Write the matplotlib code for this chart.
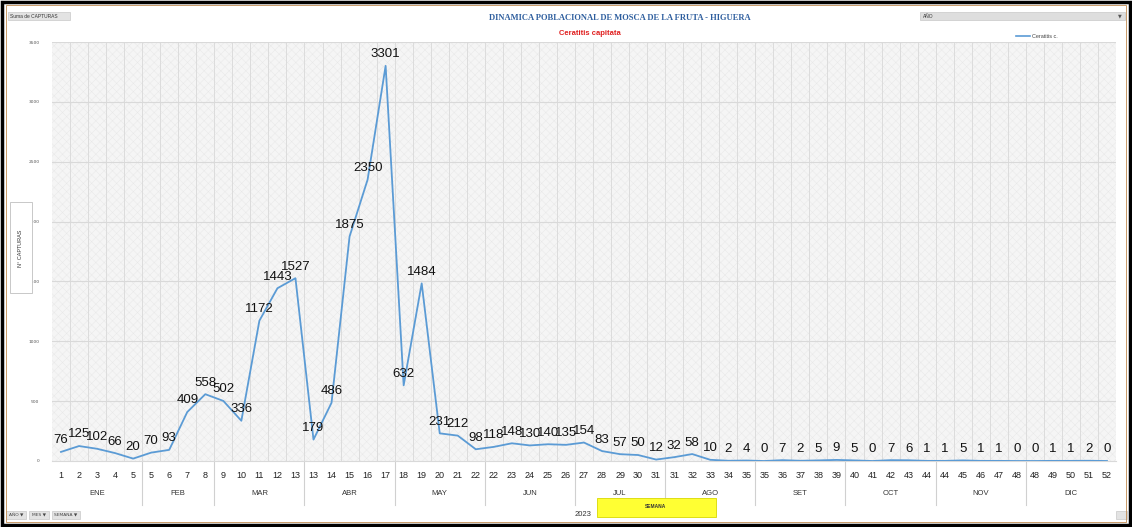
#!/usr/bin/env python3
"""
Weekly fruit fly captures (Ceratitis capitata) on fig, 2023
"""
import matplotlib
matplotlib.use("Agg")
import matplotlib.pyplot as plt
from matplotlib.patches import Rectangle
from matplotlib.lines import Line2D
from matplotlib import font_manager

# Weekly captures, grouped by month (week numbers repeat at month edges)
months = ["ENE", "FEB", "MAR", "ABR", "MAY", "JUN",
          "JUL", "AGO", "SET", "OCT", "NOV", "DIC"]
month_weeks = [
    [1, 2, 3, 4, 5],
    [5, 6, 7, 8],
    [9, 10, 11, 12, 13],
    [13, 14, 15, 16, 17],
    [18, 19, 20, 21, 22],
    [22, 23, 24, 25, 26],
    [27, 28, 29, 30, 31],
    [31, 32, 33, 34, 35],
    [35, 36, 37, 38, 39],
    [40, 41, 42, 43, 44],
    [44, 45, 46, 47, 48],
    [48, 49, 50, 51, 52],
]
captures = [
    76, 125, 102, 66, 20,
    70, 93, 409, 558,
    502, 336, 1172, 1443, 1527,
    179, 486, 1875, 2350, 3301,
    632, 1484, 231, 212, 98,
    118, 148, 130, 140, 135,
    154, 83, 57, 50, 12,
    32, 58, 10, 2, 4,
    0, 7, 2, 5, 9,
    5, 0, 7, 6, 1,
    1, 5, 1, 1, 0,
    0, 1, 1, 2, 0,
]
y_ticks = [0, 500, 1000, 1500, 2000, 2500, 3000, 3500]

names = {f.name for f in font_manager.fontManager.ttflist}
NARROW = "Liberation Sans Narrow" if "Liberation Sans Narrow" in names else "Liberation Sans"
LABEL_SIZE = 11 if NARROW == "Liberation Sans Narrow" else 9.5

plt.rcParams["hatch.linewidth"] = 0.35

W, H = 1132, 527
fig = plt.figure(figsize=(W / 100, H / 100), dpi=100)


def fx(px):
    return px / W


def fy(py):
    return 1 - py / H


left, right, top, bottom = 52, 1116, 42, 461
ax = fig.add_axes([fx(left), fy(bottom), fx(right - left), (bottom - top) / H])

weeks = [w for grp in month_weeks for w in grp]
x = list(range(len(weeks)))

# hatched plot background
ax.set_facecolor("#f5f5f5")
ax.add_patch(Rectangle((0, 0), 1, 1, transform=ax.transAxes, facecolor="none",
                       edgecolor="#e8e8e8", hatch="xxxx", linewidth=0, zorder=0))

for i in range(len(weeks) - 1):
    ax.axvline(i + 0.5, color="#dcdcdc", lw=0.7, zorder=1)
for t in y_ticks[1:]:
    ax.axhline(t, color="#d9d9d9", lw=0.8, zorder=1)

ax.plot(x, captures, color="#5b9bd5", lw=1.3, zorder=3)
for xi, v in zip(x, captures):
    ax.annotate(str(v), (xi, v), xytext=(0, 4), textcoords="offset points",
                ha="center", va="bottom", fontsize=LABEL_SIZE, family=NARROW,
                color="#111111", zorder=4)

ax.set_xlim(-0.5, len(weeks) - 0.5)
ax.set_ylim(0, 3500)
ax.set_xticks(x)
ax.set_xticklabels([str(w) for w in weeks], fontsize=6.5, family=NARROW,
                   color="#222222")
ax.tick_params(axis="x", length=0, pad=7)
ax.set_yticks(y_ticks)
ax.set_yticklabels([str(t) for t in y_ticks], fontsize=3.2, color="#555555")
ax.tick_params(axis="y", length=0, pad=9)
for s in ax.spines.values():
    s.set_visible(False)
ax.spines["bottom"].set_visible(True)
ax.spines["bottom"].set_color("#d9d9d9")

# month row and group separators
trans = ax.get_xaxis_transform()
start = 0
for name, grp in zip(months, month_weeks):
    end = start + len(grp)
    ax.text((start + end - 1) / 2, -0.077, name, transform=trans, ha="center",
            va="center", fontsize=5.5, family=NARROW, color="#333333")
    if start > 0:
        ax.add_line(Line2D([start - 0.5, start - 0.5], [0, -0.105], transform=trans,
                           color="#d0d0d0", lw=0.8, clip_on=False))
    start = end

# titles and legend
fig.text(fx(620), fy(18), "DINAMICA POBLACIONAL DE MOSCA DE LA FRUTA - HIGUERA",
         ha="center", va="center", fontsize=6.1, fontweight="bold",
         family="Liberation Serif", color="#2e5e9e")
fig.text(fx(590), fy(34), "Ceratitis capitata", ha="center", va="center",
         fontsize=5.5, fontweight="bold", family=NARROW, color="#e02020")
fig.add_artist(Line2D([fx(1016), fx(1030)], [fy(36), fy(36)], color="#5b9bd5", lw=1.2))
fig.text(fx(1032), fy(36), "Ceratitis c.", ha="left", va="center", fontsize=4,
         family=NARROW, color="#444444")

# y-axis title box
fig.add_artist(Rectangle((fx(10), fy(293)), fx(22), (293 - 202) / H,
                         facecolor="white", edgecolor="#bfbfbf", lw=0.6))
fig.text(fx(21), fy(248), "N° CAPTURAS", rotation=90, ha="center", va="center",
         fontsize=4, family=NARROW, color="#333333")

# pivot field buttons
fig.add_artist(Rectangle((fx(8), fy(20)), fx(62), 8 / H,
                         facecolor="#e3e3e3", edgecolor="#c8c8c8", lw=0.5))
fig.text(fx(10), fy(16), "Suma de CAPTURAS", ha="left", va="center",
         fontsize=3.5, family=NARROW, color="#333333")
fig.add_artist(Rectangle((fx(920), fy(20)), fx(205), 8 / H,
                         facecolor="#dedede", edgecolor="#c8c8c8", lw=0.5))
fig.text(fx(923), fy(16), "AÑO", ha="left", va="center", fontsize=3.5,
         family=NARROW, color="#333333")
fig.text(fx(1120), fy(16), "▼", ha="center", va="center", fontsize=3.5,
         family="DejaVu Sans", color="#555555")
bx = 6
for label in ["AÑO ▼", "MES ▼", "SEMANA ▼"]:
    w = 20 if len(label) < 7 else 28
    fig.add_artist(Rectangle((fx(bx), fy(519)), fx(w), 8 / H,
                             facecolor="#e3e3e3", edgecolor="#c8c8c8", lw=0.5))
    fig.text(fx(bx + w / 2), fy(515), label, ha="center", va="center",
             fontsize=3.2, family="DejaVu Sans", color="#444444")
    bx += w + 3
fig.add_artist(Rectangle((fx(1116), fy(519)), fx(11), 8 / H,
                         facecolor="#e3e3e3", edgecolor="#c8c8c8", lw=0.5))

fig.text(fx(583), fy(514), "2023", ha="center", va="center", fontsize=5.5,
         family=NARROW, color="#333333")
fig.add_artist(Rectangle((fx(597), fy(517)), fx(119), 19 / H,
                         facecolor="#ffff33", edgecolor="#d8d800", lw=0.6))
fig.text(fx(656), fy(507), "SEMANA", ha="center", va="center", fontsize=3.5,
         family=NARROW, fontweight="bold", color="#333333")

# outer frame
fig.add_artist(Rectangle((0.002, 0.004), 0.996, 0.992, transform=fig.transFigure,
                         fill=False, edgecolor="black", lw=2.5))
fig.add_artist(Rectangle((0.005, 0.009), 0.990, 0.982, transform=fig.transFigure,
                         fill=False, edgecolor="#c08a50", lw=0.6))

fig.savefig("out.png", dpi=100)
